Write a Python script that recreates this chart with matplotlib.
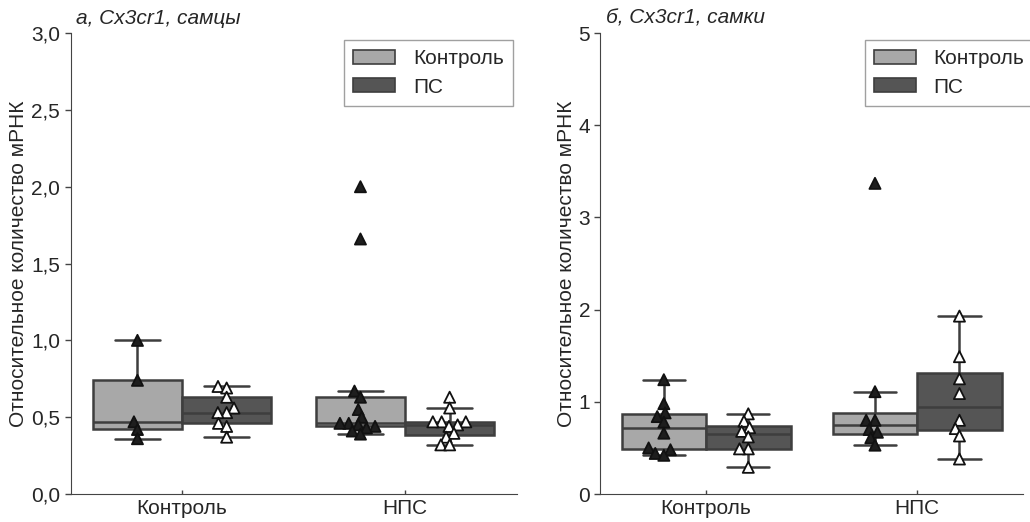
import matplotlib
matplotlib.use("Agg")
import matplotlib.pyplot as plt
import seaborn as sns
import seaborn.categorical as scat
import pandas as pd
from matplotlib.patches import Patch
from matplotlib.ticker import FuncFormatter, MultipleLocator

# ---- data ----
groups = ["Контроль", "НПС"]
treatments = ["Контроль", "ПС"]

male_ctrl_ctrl = [1.00, 0.74, 0.47, 0.42, 0.36]
male_ctrl_ps = [0.70, 0.69, 0.63, 0.56, 0.53, 0.53, 0.46, 0.44, 0.37]
male_nps_ctrl = [2.00, 1.66, 0.67, 0.63, 0.55, 0.50, 0.46, 0.46, 0.45, 0.44, 0.43, 0.41, 0.39]
male_nps_ps = [0.63, 0.56, 0.47, 0.47, 0.47, 0.45, 0.44, 0.395, 0.37, 0.32, 0.32]

female_ctrl_ctrl = [1.24, 0.98, 0.88, 0.84, 0.78, 0.66, 0.50, 0.48, 0.44, 0.42]
female_ctrl_ps = [0.87, 0.79, 0.72, 0.68, 0.62, 0.49, 0.49, 0.29]
female_nps_ctrl = [3.37, 1.11, 0.80, 0.80, 0.70, 0.67, 0.61, 0.53]
female_nps_ps = [1.93, 1.49, 1.25, 1.09, 0.80, 0.71, 0.63, 0.38]

titles = ["а, Cx3cr1, самцы", "б, Cx3cr1, самки"]
ylabel = "Относительное количество мРНК"


def frame(cc, cp, nc, np_):
    rows = []
    for g, t, vals in [(groups[0], treatments[0], cc), (groups[0], treatments[1], cp),
                       (groups[1], treatments[0], nc), (groups[1], treatments[1], np_)]:
        for v in vals:
            rows.append({"group": g, "treat": t, "val": v})
    return pd.DataFrame(rows)


dfs = [frame(male_ctrl_ctrl, male_ctrl_ps, male_nps_ctrl, male_nps_ps),
       frame(female_ctrl_ctrl, female_ctrl_ps, female_nps_ctrl, female_nps_ps)]

# tighter swarm: compute collisions with a smaller marker footprint
_orig_call = scat.Beeswarm.__call__


def _tight_call(self, points, center):
    s = points.get_sizes()
    points.set_sizes(s * 0.35)
    try:
        _orig_call(self, points, center)
    finally:
        points.set_sizes(s)


scat.Beeswarm.__call__ = _tight_call

sns.set_style("ticks")
plt.rcParams["font.family"] = ["Liberation Sans", "DejaVu Sans"]

box_pal = {"Контроль": "#a8a8a8", "ПС": "#555555"}
pt_pal = {"Контроль": "#1e1e1e", "ПС": "#ffffff"}
edge = "#3e3e3e"
text_col = "#262626"

fig = plt.figure(figsize=(10.3, 5.22), dpi=100)
axes = [fig.add_axes([0.0685, 0.0536, 0.433, 0.883]),
        fig.add_axes([0.583, 0.0536, 0.410, 0.883])]

for i, (ax, df) in enumerate(zip(axes, dfs)):
    sns.boxplot(data=df, x="group", y="val", hue="treat", order=groups, hue_order=treatments,
                palette=box_pal, saturation=1, showfliers=False, linewidth=1.8,
                linecolor=edge, width=0.8, ax=ax, legend=False)
    sns.swarmplot(data=df, x="group", y="val", hue="treat", order=groups, hue_order=treatments,
                  palette=pt_pal, dodge=True, marker="^", size=8, linewidth=1.3,
                  edgecolor="#111111", ax=ax, legend=False)
    ax.set_xlim(-0.5, 1.5)
    ax.set_xlabel("")
    ax.set_ylabel(ylabel, fontsize=15, color=text_col, labelpad=2)
    ax.tick_params(axis="both", labelsize=15, width=1, color="#444444", labelcolor=text_col)
    ax.tick_params(axis="y", length=4)
    ax.tick_params(axis="x", length=3, direction="in")
    for s in ["top", "right"]:
        ax.spines[s].set_visible(False)
    for s in ["left", "bottom"]:
        ax.spines[s].set_color("#444444")
    ax.text(0.012, 1.012, titles[i], transform=ax.transAxes, fontstyle="italic",
            fontsize=15, ha="left", va="bottom", color=text_col)
    handles = [Patch(facecolor=box_pal[t], edgecolor=edge, linewidth=1.2, label=t) for t in treatments]
    leg = ax.legend(handles=handles, loc="upper right", fontsize=15, frameon=True, fancybox=False,
                    edgecolor="#888888", handlelength=2.0, handleheight=0.65, handletextpad=0.85,
                    labelspacing=0.45, borderpad=0.45, borderaxespad=0.0,
                    bbox_to_anchor=(0.992, 0.985) if i == 0 else (1.026, 0.985))
    for t in leg.get_texts():
        t.set_color(text_col)
    leg.get_frame().set_linewidth(1.0)

axes[0].set_ylim(0, 3.0)
axes[0].yaxis.set_major_locator(MultipleLocator(0.5))
axes[0].yaxis.set_major_formatter(FuncFormatter(lambda v, p: f"{v:.1f}".replace(".", ",")))
axes[1].set_ylim(0, 5.0)
axes[1].yaxis.set_major_locator(MultipleLocator(1))
axes[1].yaxis.set_major_formatter(FuncFormatter(lambda v, p: f"{int(round(v))}"))

fig.savefig("out.png", dpi=100)
